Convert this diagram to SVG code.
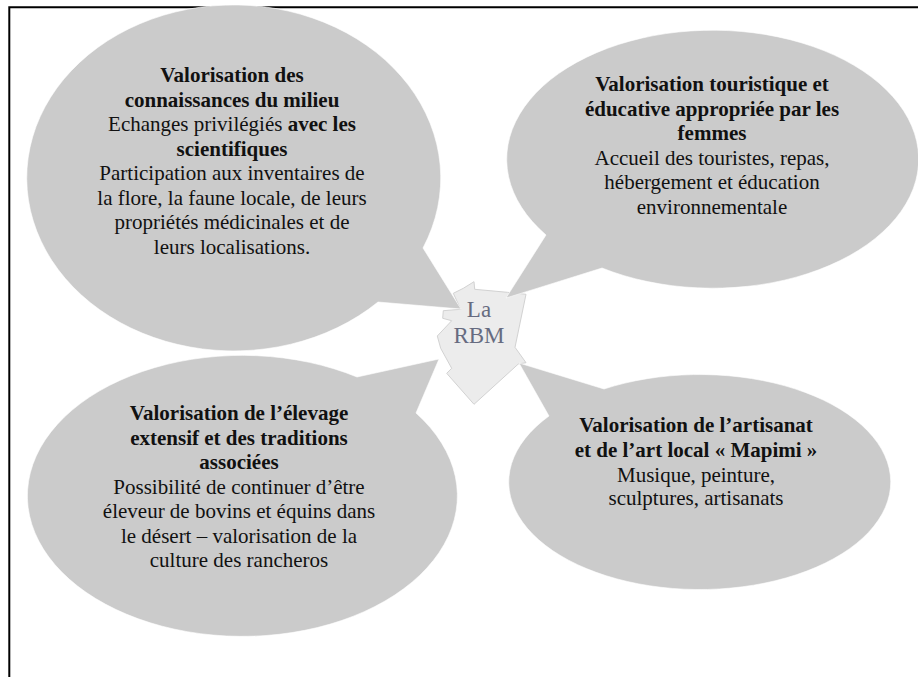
<svg xmlns="http://www.w3.org/2000/svg" width="918" height="677" viewBox="0 0 918 677">
<style>
.b{fill:#cbcbcb;stroke:#fff;stroke-width:.6}
text{font-family:"Liberation Serif","Times New Roman",serif;font-size:21px;fill:#111;text-anchor:middle}
.h{font-weight:bold}
.c{font-size:23px;fill:#666b80}
</style>
<rect width="918" height="677" fill="#fff"/>
<path id="frame" d="M9.3 677V7.2H918" fill="none" stroke="#000" stroke-width="2"/>
<g id="connectors"/>
<g id="center"><path fill="#ececec" stroke="#d2d2d2" d="M453.3 293.3L463.3 288.3L474 281.7L474.7 289.3L507.3 292.3L526 294.3L515 347.3L526 362.7L518.3 364L474 404.3L446.7 373.3L451.7 368.3L440.7 348.3L437.3 336L451.7 320.7L442.7 318.3L443.3 310.7L460.7 309.3Z"/>
<text x="479" y="317" class="c">La</text><text x="479" y="343" class="c">RBM</text></g>
<g id="n1"><path class="b" d="M378 302A207 173 0 1 1 423 248L461 309Z"/>
<text x="232" y="82" class="h">Valorisation des</text><text x="232" y="106.500" class="h">connaissances du milieu</text>
<text x="232" y="131">Echanges privilégiés <tspan class="h">avec les</tspan></text><text x="232" y="155.500" class="h">scientifiques</text>
<text x="232" y="180">Participation aux inventaires de</text><text x="232" y="204.500">la flore, la faune locale, de leurs</text><text x="232" y="229">propriétés médicinales et de</text><text x="232" y="253.500">leurs localisations.</text></g>
<g id="n2"><path class="b" d="M546 235A206 129 0 1 1 602 268L506 298Z"/>
<text x="712" y="91" class="h">Valorisation touristique et</text><text x="712" y="115.500" class="h">éducative appropriée par les</text><text x="712" y="140" class="h">femmes</text>
<text x="712" y="164.500">Accueil des touristes, repas,</text><text x="712" y="189">hébergement et éducation</text><text x="712" y="213.500">environnementale</text></g>
<g id="n3"><path class="b" d="M416 413A215 140.500 0 1 1 357 377L439 359Z"/>
<text x="239" y="420" class="h">Valorisation de l’élevage</text><text x="239" y="444.500" class="h">extensif et des traditions</text><text x="239" y="469" class="h">associées</text>
<text x="239" y="493.500">Possibilité de continuer d’être</text><text x="239" y="518">éleveur de bovins et équins dans</text><text x="239" y="542.500">le désert – valorisation de la</text><text x="239" y="567">culture des rancheros</text></g>
<g id="n4"><path class="b" d="M604 389A191 107.500 0 1 1 549 416L519 363Z"/>
<text x="696" y="432" class="h">Valorisation de l’artisanat</text><text x="696" y="457" class="h">et de l’art local « Mapimi »</text>
<text x="696" y="481.500">Musique, peinture,</text><text x="696" y="505">sculptures, artisanats</text></g>
</svg>
